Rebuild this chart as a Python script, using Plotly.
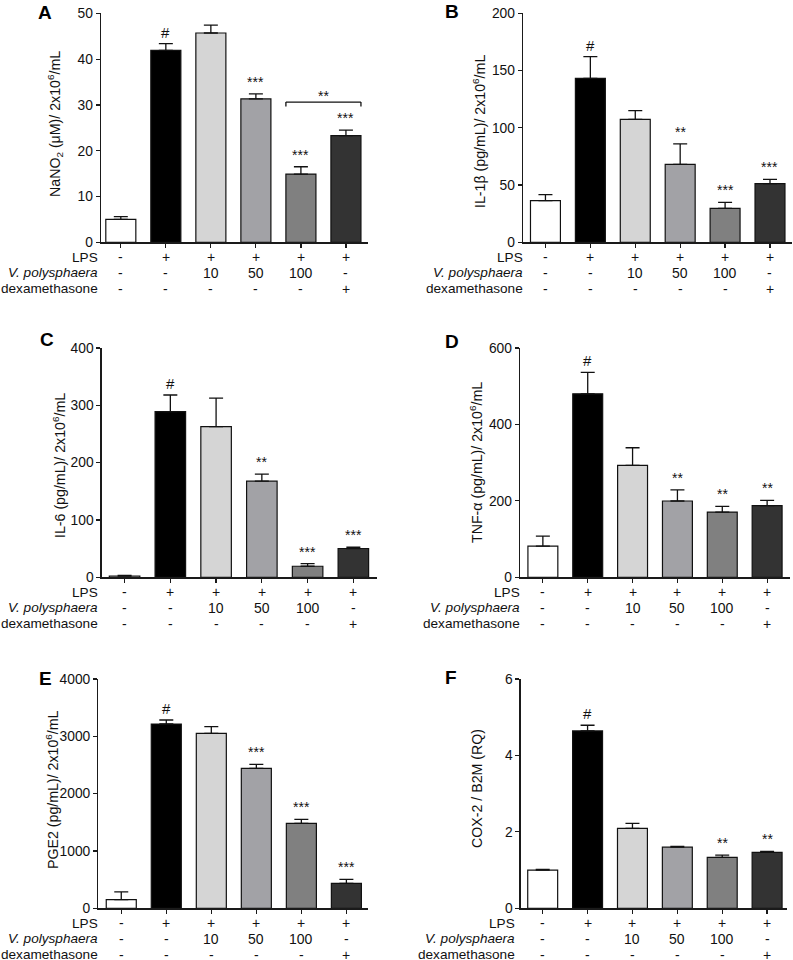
import plotly.graph_objects as go

W, H = 793, 960
FONT = "Liberation Sans, Arial, sans-serif"

# ---------------- data ----------------
conditions = ["Control", "LPS", "LPS+Vp10", "LPS+Vp50", "LPS+Vp100", "LPS+Dexa"]
lps_row = ["-", "+", "+", "+", "+", "+"]
vp_row = ["-", "-", "10", "50", "100", "-"]
dexa_row = ["-", "-", "-", "-", "-", "+"]
row_labels = ["LPS", "<i>V. polysphaera</i>", "dexamethasone"]
bar_colors = ["#ffffff", "#000000", "#d5d5d5", "#a2a2a6", "#808080", "#333333"]

no_mean = [5.0, 41.9, 45.7, 31.3, 14.9, 23.3]
no_sem = [0.6, 1.5, 1.7, 1.1, 1.6, 1.2]
no_sig = ["", "#", "", "***", "***", "***"]

il1b_mean = [36.4, 143.2, 107.4, 68.1, 29.7, 51.2]
il1b_sem = [5.2, 19.0, 7.6, 17.8, 5.2, 3.8]
il1b_sig = ["", "#", "", "**", "***", "***"]

il6_mean = [2.3, 289.0, 263.0, 167.6, 19.3, 50.2]
il6_sem = [1.2, 29.0, 49.6, 12.4, 4.7, 2.4]
il6_sig = ["", "#", "", "**", "***", "***"]

tnf_mean = [81.5, 480.0, 293.0, 199.7, 170.8, 187.4]
tnf_sem = [26.2, 56.0, 46.0, 28.9, 14.9, 14.0]
tnf_sig = ["", "#", "", "**", "**", "**"]

pge2_mean = [151, 3215, 3052, 2442, 1483, 436]
pge2_sem = [134, 70, 117, 70, 69, 70]
pge2_sig = ["", "#", "", "***", "***", "***"]

cox2_mean = [1.00, 4.64, 2.09, 1.60, 1.33, 1.465]
cox2_sem = [0.02, 0.15, 0.13, 0.02, 0.06, 0.025]
cox2_sig = ["", "#", "", "", "**", "**"]

# bracket in panel A between groups 4 and 5
bracket_A = (4, 5, "**")

BAR_W = 0.667

panels = [
    dict(letter="A", mean=no_mean, sem=no_sem, sig=no_sig,
         title="NaNO<sub>2</sub> (μM)/ 2x10<sup>6</sup>/mL", ymax=50, dtick=10,
         box=(101, 368, 13.3, 242.3), xr=(-0.44, 5.49),
         letter_xy=(45, 12.5), title_xy=(55, 124), rows_right=100),
    dict(letter="B", mean=il1b_mean, sem=il1b_sem, sig=il1b_sig,
         title="IL-1β (pg/mL)/ 2x10<sup>6</sup>/mL", ymax=200, dtick=50,
         box=(523, 792, 13.3, 242.3), xr=(-0.50, 5.49),
         letter_xy=(452, 11), title_xy=(479, 132), rows_right=525),
    dict(letter="C", mean=il6_mean, sem=il6_sem, sig=il6_sig,
         title="IL-6 (pg/mL)/ 2x10<sup>6</sup>/mL", ymax=400, dtick=100,
         box=(101.7, 376.7, 348, 577.3), xr=(-0.50, 5.51),
         letter_xy=(47, 339), title_xy=(59, 466), rows_right=100),
    dict(letter="D", mean=tnf_mean, sem=tnf_sem, sig=tnf_sig,
         title="TNF-α (pg/mL)/ 2x10<sup>6</sup>/mL", ymax=600, dtick=200,
         box=(520, 790, 348, 577.3), xr=(-0.51, 5.51),
         letter_xy=(452, 341), title_xy=(476, 463), rows_right=522),
    dict(letter="E", mean=pge2_mean, sem=pge2_sem, sig=pge2_sig,
         title="PGE2 (pg/mL)/ 2x10<sup>6</sup>/mL", ymax=4000, dtick=1000,
         box=(98.3, 368, 679, 908.3), xr=(-0.51, 5.48),
         letter_xy=(45.5, 678), title_xy=(52, 790), rows_right=100),
    dict(letter="F", mean=cox2_mean, sem=cox2_sem, sig=cox2_sig,
         title="COX-2 / B2M (RQ)", ymax=6, dtick=2,
         box=(520.7, 787.3, 679, 908.3), xr=(-0.49, 5.45),
         letter_xy=(451, 677), title_xy=(477, 789), rows_right=517),
]

table_rows = [lps_row, vp_row, dexa_row]
xpos = list(range(len(conditions)))


def px(x):
    return x / W


def py(y):
    return 1 - y / H


fig = go.Figure()
annotations = []
shapes = []
axis_common = dict(showline=True, linecolor="#1a1a1a", linewidth=1.3,
                   ticks="outside", ticklen=4, tickwidth=1.2, tickcolor="#1a1a1a",
                   showgrid=False, zeroline=False, fixedrange=True,
                   tickfont=dict(family=FONT, size=13.8, color="#111"))

for i, p in enumerate(panels):
    sfx = "" if i == 0 else str(i + 1)
    xr_name, yr_name = "x" + sfx, "y" + sfx
    x0, x1, yt, yb = p["box"]
    fig.add_trace(go.Bar(
        x=xpos, y=p["mean"], width=BAR_W, xaxis=xr_name, yaxis=yr_name,
        marker=dict(color=bar_colors, line=dict(color="#111", width=1.2)),
        error_y=dict(type="data", symmetric=False, array=p["sem"],
                     arrayminus=[0] * len(p["sem"]), color="#111",
                     thickness=1.3, width=7),
        showlegend=False, hoverinfo="skip"))
    fig.layout["xaxis" + sfx] = dict(
        domain=[px(x0), px(x1)], anchor=yr_name, range=list(p["xr"]),
        tickvals=xpos, showticklabels=False, **axis_common)
    fig.layout["yaxis" + sfx] = dict(
        domain=[py(yb), py(yt)], anchor=xr_name, range=[0, p["ymax"]],
        tick0=0, dtick=p["dtick"], **axis_common)

    # significance marks
    for j, s in enumerate(p["sig"]):
        if not s:
            continue
        top = p["mean"][j] + p["sem"][j]
        annotations.append(dict(
            x=j, y=top, xref=xr_name, yref=yr_name, text=s, showarrow=False,
            yanchor="middle", yshift=11.5 if s == "#" else 12,
            font=dict(family=FONT, size=15 if s == "#" else 14, color="#111")))

    # treatment table (row labels + cells under each bar)
    for k, lab in enumerate(row_labels):
        yy = py(yb + 14.7 + 15.8 * k)
        annotations.append(dict(
            x=px(p["rows_right"]), y=yy, xref="paper", yref="paper",
            text=lab, showarrow=False, xanchor="right", yanchor="middle",
            font=dict(family=FONT, size=13.6, color="#111")))
        for j, cell in enumerate(table_rows[k]):
            annotations.append(dict(
                x=j, y=yy, xref=xr_name, yref="paper", text=cell, showarrow=False,
                xanchor="center", yanchor="middle",
                font=dict(family=FONT, size=14, color="#111")))

    # panel letter
    annotations.append(dict(
        x=px(p["letter_xy"][0]), y=py(p["letter_xy"][1]), xref="paper", yref="paper",
        text="<b>%s</b>" % p["letter"], showarrow=False, xanchor="center", yanchor="middle",
        font=dict(family=FONT, size=19, color="#000")))

    # y title
    annotations.append(dict(
        x=px(p["title_xy"][0]), y=py(p["title_xy"][1]), xref="paper", yref="paper",
        text=p["title"], showarrow=False, textangle=-90, xanchor="center", yanchor="middle",
        font=dict(family=FONT, size=14.2, color="#111")))

# bracket in panel A
a, b, s = bracket_A
top = max(no_mean[a] + no_sem[a], no_mean[b] + no_sem[b])
bl, br = a - BAR_W / 2, b + BAR_W / 2
for (xa_, xb_, ya_, yb_) in [(bl, br, 28, 28), (bl, bl, 28, 23.5), (br, br, 28, 23.5)]:
    shapes.append(dict(type="line", xref="x", yref="y", ysizemode="pixel", yanchor=top,
                       x0=xa_, x1=xb_, y0=ya_, y1=yb_,
                       line=dict(color="#111", width=1.3)))
annotations.append(dict(x=(a + b) / 2, y=top, xref="x", yref="y", text=s, showarrow=False,
                        yanchor="middle", yshift=34,
                        font=dict(family=FONT, size=14, color="#111")))

fig.update_layout(width=W, height=H, margin=dict(l=0, r=0, t=0, b=0),
                  template="none", paper_bgcolor="white", plot_bgcolor="white",
                  annotations=annotations, shapes=shapes, bargap=0)
fig.write_html("out.html", config={"displayModeBar": False, "staticPlot": True},
               post_script="document.body.style.margin='0';"
                           "document.body.style.overflow='hidden';")
